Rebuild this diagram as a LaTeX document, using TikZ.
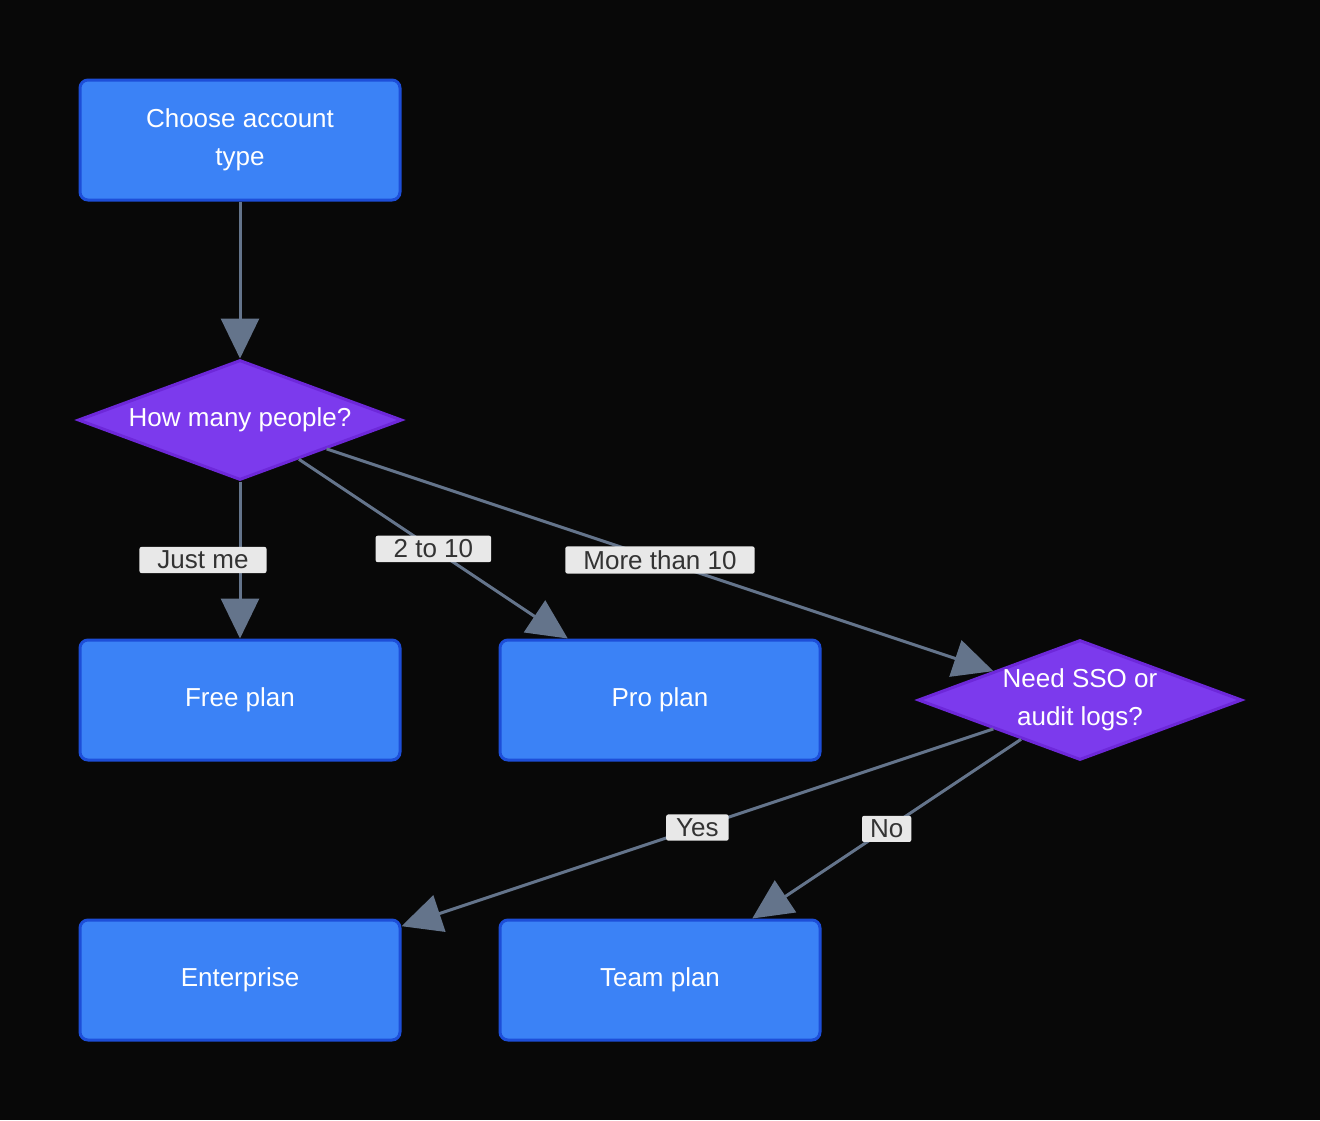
\documentclass[tikz,border=0pt]{standalone}
\usepackage{fontspec}
\setmainfont{Liberation Sans}
\usetikzlibrary{shapes.geometric,arrows.meta}
\definecolor{bg}{HTML}{080808}
\definecolor{boxf}{HTML}{3B82F6}
\definecolor{boxd}{HTML}{1D4ED8}
\definecolor{diaf}{HTML}{7C3AED}
\definecolor{diad}{HTML}{6D28D9}
\definecolor{edge}{HTML}{64748B}
\definecolor{lbl}{HTML}{E8E8E8}
\begin{document}
\begin{tikzpicture}[x=1pt,y=-1pt,
  box/.style={rectangle,rounded corners=8pt,fill=boxf,draw=boxd,line width=3pt,minimum width=320pt,minimum height=120pt,text=white,font=\fontsize{26}{38}\selectfont,align=center},
  dia/.style={diamond,aspect=2.7,fill=diaf,draw=diad,line width=3pt,minimum width=324pt,minimum height=120pt,inner sep=0pt,text=white,font=\fontsize{26}{38}\selectfont,align=center},
  conn/.style={draw=edge,line width=3pt,-{Triangle[length=40pt,width=38pt]}},
  lab/.style={fill=lbl,text=black!80,rounded corners=2pt,font=\fontsize{26}{30}\selectfont,inner xsep=18pt,inner ysep=4pt,pos=0.5}]
\fill[bg] (0,0) rectangle (1320,1120);
\node[box] (choose) at (240,140) {Choose account\\type};
\node[dia] (q) at (240,420) {How many people?};
\node[box] (free) at (240,700) {Free plan};
\node[box] (pro) at (660,700) {Pro plan};
\node[dia] (sso) at (1080,700) {Need SSO or\\audit logs?};
\node[box] (ent) at (240,980) {Enterprise};
\node[box] (team) at (660,980) {Team plan};
\draw[conn] (choose) -- (q);
\draw[conn] (q) -- node[lab,xshift=-37pt] {Just me} (free);
\draw[conn] (q) -- node[lab] {2 to 10} (pro);
\draw[conn] (q) -- node[lab] {More than 10} (sso);
\draw[conn] (sso) -- node[lab,inner xsep=10pt] {Yes} (ent);
\draw[conn] (sso) -- node[lab,inner xsep=8pt] {No} (team);
\end{tikzpicture}
\end{document}
